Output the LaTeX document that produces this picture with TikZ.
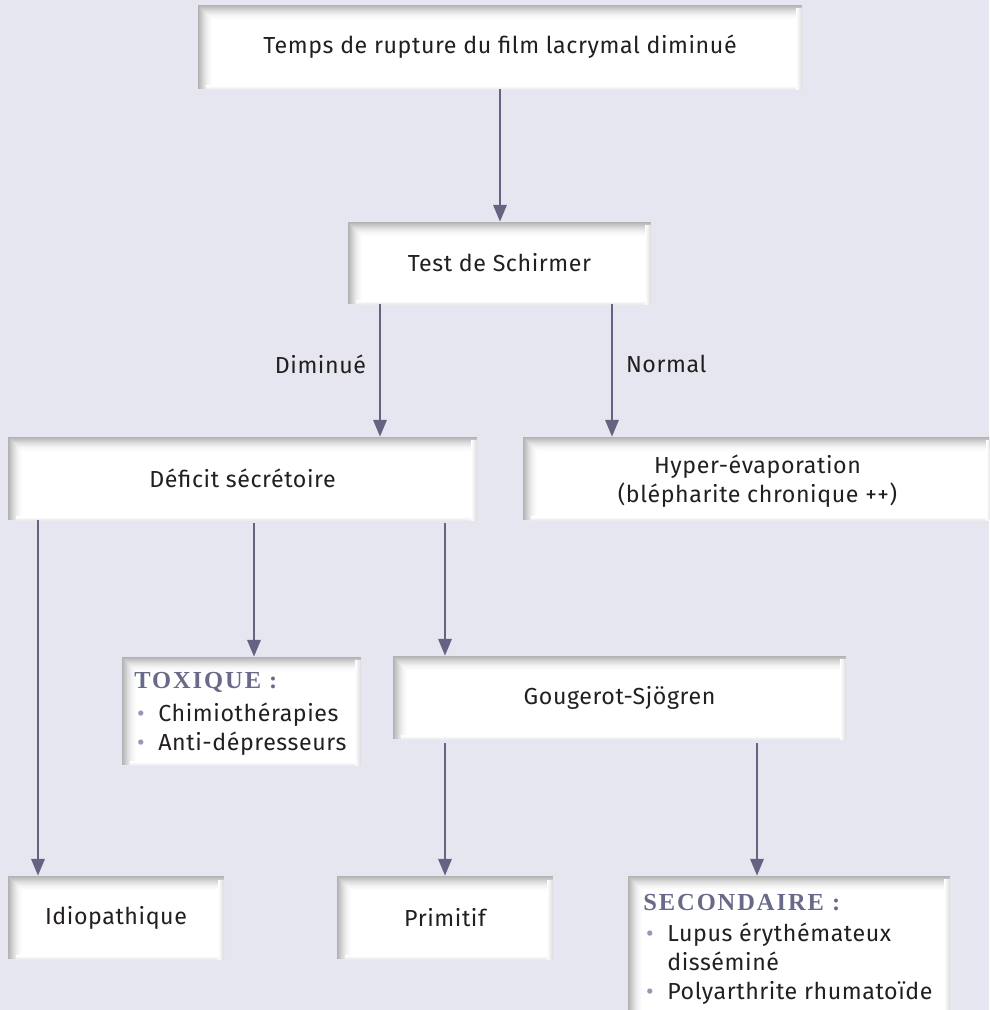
\documentclass[tikz,border=0pt]{standalone}
\usepackage{fontspec}
\setmainfont{Fira Sans}[LetterSpace=2.5]
\newfontfamily\titrefont{Liberation Serif}[LetterSpace=8]
\usetikzlibrary{arrows.meta}
\definecolor{fond}{RGB}{230,230,240}
\definecolor{fleche}{RGB}{100,100,130}
\definecolor{titre}{RGB}{105,105,138}
\definecolor{pucec}{RGB}{150,150,185}
\definecolor{encre}{RGB}{35,31,32}
\newcommand\puce{\makebox[0.6cm][l]{\hspace{0.07cm}\textcolor{pucec}{•}}}
\newcommand\titre[1]{{\titrefont\bfseries\fontsize{17.4}{20}\selectfont\color{titre}#1}}

\begin{document}
\begin{tikzpicture}[x=0.025cm,y=-0.025cm,font=\fontsize{16.5}{20.4}\selectfont,text=encre]
      \tikzstyle{case}=[fill=white,inner sep=0pt,align=center,minimum height=2.075cm,
        path picture={
          \foreach \i/\gr in {0/30,1/27,2/24,3/21,4/18,5/15,6/12,7/10,8/8,9/6,10/4,11/3,12/2,13/1,14/0}
            \fill[black!\gr] ([shift={(\i*0.025cm,-\i*0.025cm)}]path picture bounding box.north west)
              rectangle (path picture bounding box.south east);
          \shade[left color=white,right color=black!14]
            ([xshift=-0.15cm,yshift=-0.1cm]path picture bounding box.north east)
              rectangle (path picture bounding box.south east);
          \shade[top color=white,bottom color=black!8]
            ([xshift=0.2cm,yshift=0.08cm]path picture bounding box.south west)
              rectangle ([xshift=-0.15cm]path picture bounding box.south east);
        }]
      \tikzstyle{fl}=[draw=fleche,line width=0.065cm,-{Triangle[length=0.42cm,width=0.33cm]}]

      \clip (0,0) rectangle (989,1010);
      \fill[fond] (0,0) rectangle (989,1010);

      % les cases
      \node(0)[case,minimum width=15.1cm,minimum height=2.1cm] at (500,47) {Temps de rupture du film lacrymal diminué};
      \node(1)[case,minimum width=7.575cm,minimum height=2.05cm] at (499.5,263) {Test de Schirmer};
      \node(2)[case,minimum width=11.725cm] at (242.5,478.5) {Déficit sécrétoire};
      \node(3)[case,minimum width=11.725cm] at (757.5,478.5) {\rule{0pt}{17pt}Hyper-évaporation\\(blépharite chronique ++)};
      \node(4)[case,minimum width=5.975cm,minimum height=2.7cm] at (241.5,711) {};
      \node(5)[case,minimum width=11.325cm] at (619.5,697.5) {Gougerot-Sjögren};
      \node(6)[case,minimum width=5.4cm] at (116,917.5) {Idiopathique};
      \node(7)[case,minimum width=5.4cm] at (445,917.5) {Primitif};
      \node(8)[case,minimum width=8.05cm,minimum height=3.85cm] at (789,953) {};

      % les listes
      \node(4t)[anchor=north west,align=left,inner sep=0pt] at (134,672)
        {\titre{TOXIQUE :}\\[3pt]
         \puce Chimiothérapies\\
         \puce Anti-dépresseurs};
      \node(8t)[anchor=north west,align=left,inner sep=0pt] at (643,894)
        {\titre{SECONDAIRE :}\\[2pt]
         \puce Lupus érythémateux\\
         \hspace*{0.6cm}disséminé\\
         \puce Polyarthrite rhumatoïde};

      % les fleches
      \coordinate(c0) at (500,0);
      \coordinate(c1) at (380,0);
      \coordinate(c2) at (612,0);
      \coordinate(c3) at (38,0);
      \coordinate(c4) at (254,0);
      \coordinate(c5) at (445,0);
      \coordinate(c6) at (757,0);

      \draw[fl] (0.south -| c0) -- (1.north -| c0);
      \draw[fl] (1.south -| c1) -- node(d)[pos=0.45,left=0.2cm]{Diminué} (2.north -| c1);
      \draw[fl] (1.south -| c2) -- node(n)[pos=0.45,right=0.2cm]{Normal} (3.north -| c2);
      \draw[fl] (2.south -| c3) -- (6.north -| c3);
      \draw[fl,shorten <=0.075cm] (2.south -| c4) -- (4.north -| c4);
      \draw[fl,shorten <=0.075cm] (2.south -| c5) -- (5.north -| c5);
      \draw[fl,shorten <=0.1cm] (5.south -| c5) -- (7.north -| c5);
      \draw[fl,shorten <=0.1cm] (5.south -| c6) -- (8.north -| c6);
    \end{tikzpicture}
\end{document}
